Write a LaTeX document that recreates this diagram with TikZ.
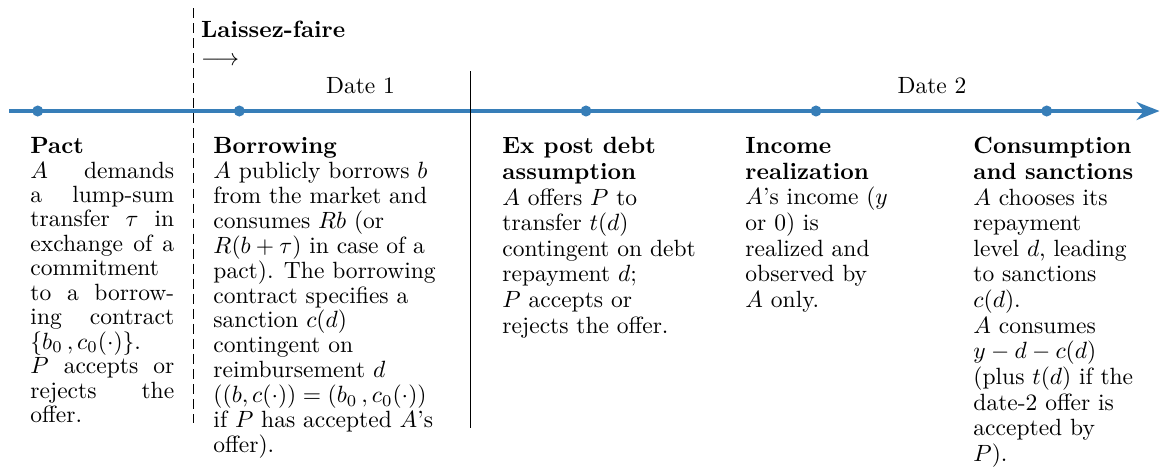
\documentclass[tikz,border=0pt]{standalone}
\usepackage{amsmath,amssymb}
\usepackage{tikz}
\usetikzlibrary{arrows.meta,calc}
\definecolor{lineblue}{RGB}{55,126,184}
\tikzset{
  evt/.style={anchor=north west,inner sep=0pt,align=flush left,
              font=\fontsize{10pt}{#1}\selectfont},
  evt/.default=10.9pt,
  jevt/.style={evt=10.4pt,align=justify},
  evdot/.style={circle,fill=lineblue,draw=none,inner sep=0pt,minimum size=4.7pt},
  tl/.style={draw=lineblue,line width=1.3pt,
             -{Stealth[length=9.8pt,width=7.7pt,inset=3.2pt]}},
  datelbl/.style={anchor=base,inner sep=0pt},
  sep/.style={draw=black,line width=0.4pt},
}

\begin{document}
\begin{tikzpicture}[x=0.4255pt,y=-0.4255pt]
  \useasboundingbox (0,0) rectangle (1160,466);
  \coordinate (tlstart) at (9,111);
  \coordinate (tlend) at (1159.5,111);
  \draw[tl] (tlstart) -- (tlend);
  \node[evdot] (d1) at (37.7,111) {};
  \node[evdot] (d2) at (239.3,111) {};
  \node[evdot] (d3) at (586,111) {};
  \node[evdot] (d4) at (816,111) {};
  \node[evdot] (d5) at (1046.7,111) {};
  \coordinate (lftop) at (193.3,8);
  \coordinate (lfbot) at (193.3,423);
  \draw[sep,dash pattern=on 4.2pt off 2.2pt] (lftop) -- (lfbot);
  \coordinate (datetop) at (470,71);
  \coordinate (datebot) at (470,428);
  \draw[sep] (datetop) -- (datebot);
  \node[anchor=north west,inner sep=0pt,align=left] (lf) at (200.7,20.4)
    {\textbf{Laissez-faire}\\$\longrightarrow$};
  \node[datelbl] (date1) at (360.5,93) {Date 1};
  \node[datelbl] (date2) at (932,93) {Date 2};
  \node[jevt,text width=2.15cm] (pact) at (30,137)
    {\textbf{Pact}\\ $A$ demands a lump-sum transfer $\tau$ in exchange of a
     commitment to a borrowing contract $\{b_0\,,c_0(\cdot)\}$.\\
     $P$ accepts or rejects the offer.};
  \node[evt=10.6pt,text width=3.5cm] (borrow) at (213,137)
    {\textbf{Borrowing}\\ $A$ publicly borrows $b$ from the market and
     consumes $Rb$ (or $R(b+\tau)$ in case of a pact). The borrowing
     contract specifies a sanction $c(d)$ contingent on reimbursement $d$
     $((b,c(\cdot))=(b_0\,,c_0(\cdot))$ if $P$ has accepted $A$'s offer).};
  \node[evt,text width=3cm] (expost) at (502,137)
    {\textbf{Ex post debt assumption}\\ $A$ offers $P$ to transfer $t(d)$
     contingent on debt repayment $d$;\\ $P$ accepts or rejects the offer.};
  \node[evt,text width=2.15cm] (income) at (745,137)
    {\textbf{Income realization}\\ $A$'s income ($y$ or 0) is realized and
     observed by $A$ only.};
  \node[evt,text width=67.95pt] (consume) at (973,137)
    {\textbf{Consumption and sanctions}\\ $A$ chooses its repayment level
     $d$, leading to sanctions $c(d)$.\\ $A$ consumes $y-d-c(d)$ (plus
     $t(d)$ if the date-2 offer is accepted by $P$).};
\end{tikzpicture}
\end{document}
